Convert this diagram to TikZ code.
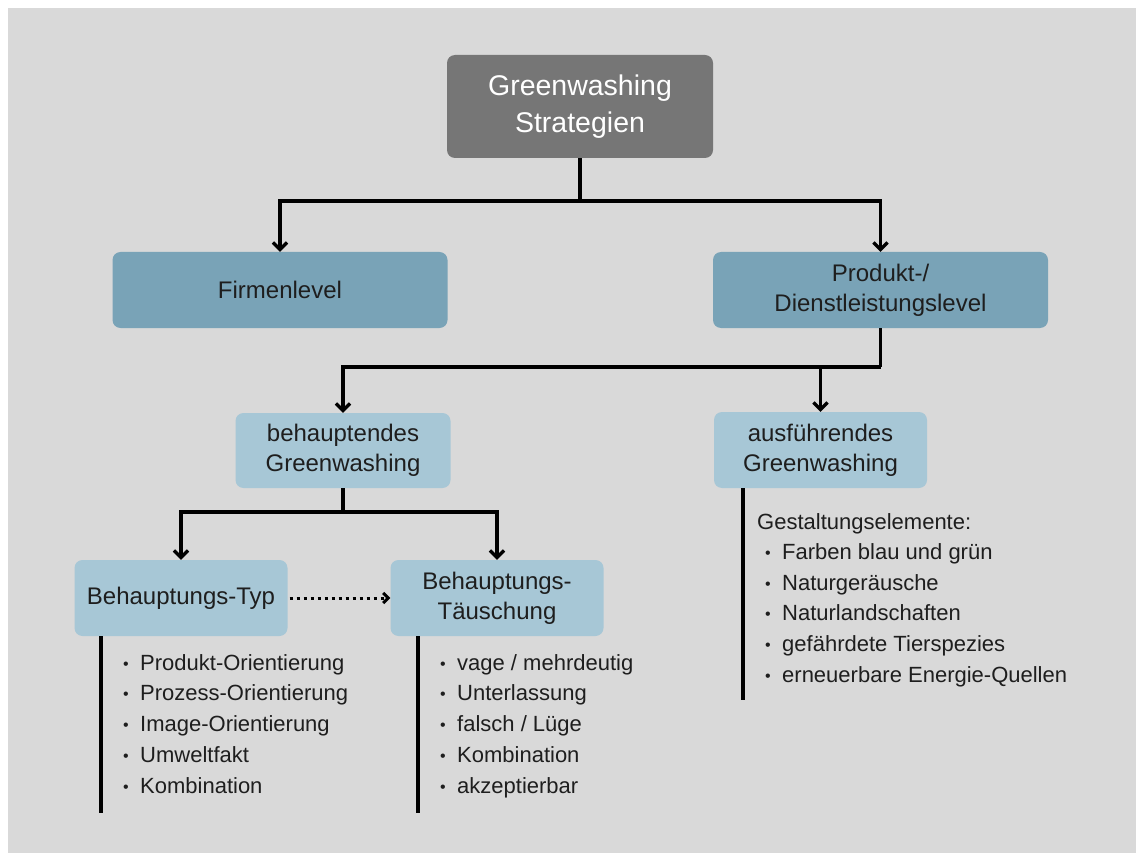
\documentclass[tikz,border=0pt]{standalone}
\usepackage{fontspec}
\setmainfont{Liberation Sans}
\usetikzlibrary{arrows.meta}
\definecolor{bggray}{HTML}{D9D9D9}
\definecolor{topgray}{HTML}{767676}
\definecolor{midblue}{HTML}{79A3B7}
\definecolor{lightblue}{HTML}{A7C7D6}
\definecolor{txt}{HTML}{1E1E1E}
\newcommand\mybul{\makebox[17pt][l]{\fontsize{16}{16}\selectfont\raisebox{1pt}{•}}}
\begin{document}
\begin{tikzpicture}[x=1pt,y=-1pt,
  box/.style={rounded corners=8pt, inner sep=0pt, align=center, text=txt,
    font=\fontsize{24}{30}\selectfont},
  topbox/.style={box, fill=topgray, text=white, font=\fontsize{28.5}{37}\selectfont,
    minimum width=266pt, minimum height=103pt},
  midbox/.style={box, fill=midblue, minimum width=335pt, minimum height=76pt},
  lightbox/.style={box, fill=lightblue, minimum width=213pt, minimum height=76pt},
  conn/.style={line width=3.3pt, draw=black, line join=miter},
  arr/.style={conn, -{Straight Barb[length=7pt,width=14pt,line width=3.3pt]}},
  dotarr/.style={line width=3pt, dash pattern=on 3pt off 4pt,
    -{Straight Barb[length=5pt,width=10pt,line width=3pt]}},
  rulel/.style={line width=3.3pt},
  item/.style={anchor=base west, inner sep=0pt, text=txt, font=\fontsize{22}{26}\selectfont}
]
\useasboundingbox (0,0) rectangle (1136,853);
\fill[bggray] (8,8) rectangle (1136,853);

% boxes
\node[topbox] (top) at (580,106.5) {Greenwashing\\Strategien};
\node[midbox] (firm) at (280,290) {Firmenlevel};
\node[midbox] (prod) at (880.5,290) {Produkt-/\\Dienstleistungslevel};
\node[lightbox, minimum width=215pt, minimum height=75pt] (beh) at (343,450.5) {behauptendes\\Greenwashing};
\node[lightbox] (aus) at (820.5,450) {ausführendes\\Greenwashing};
\node[lightbox] (typ) at (181,598) {Behauptungs-Typ};
\node[lightbox] (tau) at (497,598) {Behauptungs-\\Täuschung};

% junctions
\coordinate (j1) at (580,201);
\coordinate (j2) at (880.5,367);
\coordinate (j3) at (343,512);

\draw[conn] (top.south) -- (j1);
\draw[arr] (j1) -| (firm.north);
\draw[arr] (j1) -| (prod.north);

\draw[conn] (prod.south) -- (j2);
\draw[arr] (j2) -| (beh.north);
\draw[arr] (aus.north |- j2) -- (aus.north);

\draw[conn] (beh.south) -- (j3);
\draw[arr] (j3) -| (typ.north);
\draw[arr] (j3) -| (tau.north);

\draw[dotarr] ([xshift=2pt]typ.east) -- (tau.west);

% list rules
\coordinate (typEnd) at (101,813);
\coordinate (tauEnd) at (418,813);
\coordinate (ausEnd) at (743,700);
\draw[rulel] (typEnd |- typ.south) -- (typEnd);
\draw[rulel] (tauEnd |- tau.south) -- (tauEnd);
\draw[rulel] (ausEnd |- aus.south) -- (ausEnd);

% lists
\foreach \t [count=\i from 0] in {Produkt-Orientierung,Prozess-Orientierung,Image-Orientierung,Umweltfakt,Kombination}
  \node[item] (typI\i) at (140,{670+30.75*\i}) {\llap{\mybul}\t};
\foreach \t [count=\i from 0] in {vage / mehrdeutig,Unterlassung,falsch / Lüge,Kombination,akzeptierbar}
  \node[item] (tauI\i) at (457,{670+30.75*\i}) {\llap{\mybul}\t};
\node[item] (ausH) at (757,529) {Gestaltungselemente:};
\foreach \t [count=\i from 1] in {Farben blau und grün,Naturgeräusche,Naturlandschaften,gefährdete Tierspezies,erneuerbare Energie-Quellen}
  \node[item] (ausI\i) at (782,{529+30.6*\i}) {\llap{\mybul}\t};
\end{tikzpicture}
\end{document}
